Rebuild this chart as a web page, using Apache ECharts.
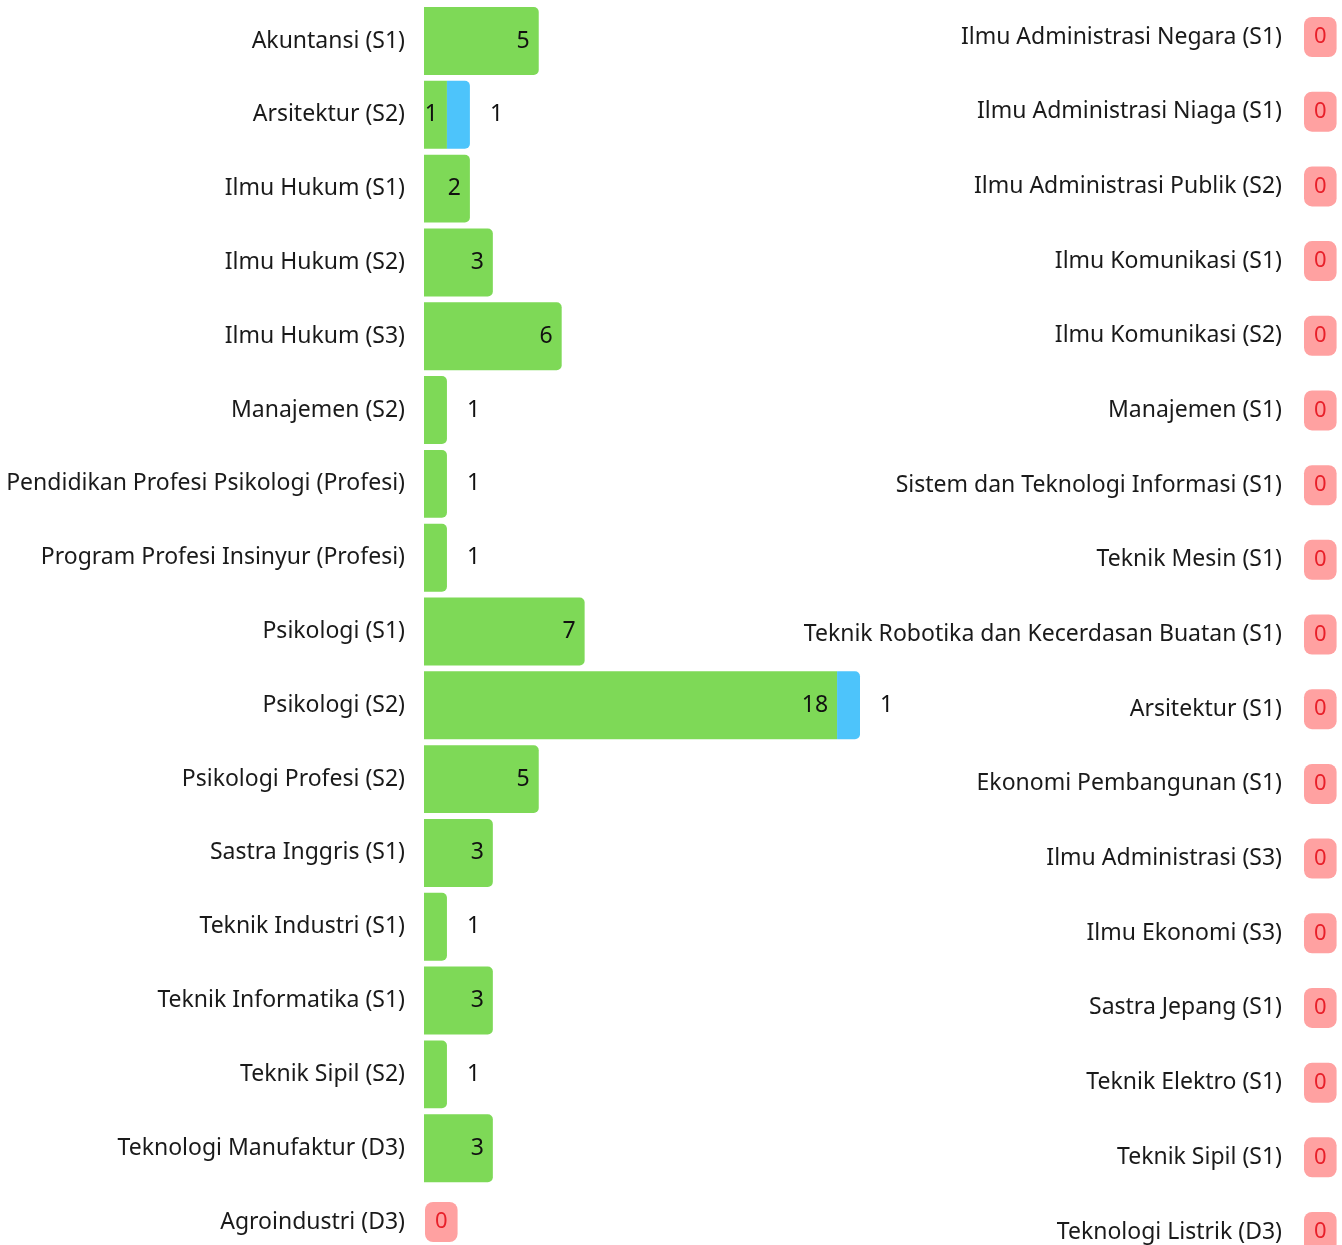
<!DOCTYPE html>
<html>
<head>
<meta charset="utf-8">
<script src="https://cdn.jsdelivr.net/npm/echarts@6/dist/echarts.min.js"></script>
<style>
  html, body { margin: 0; padding: 0; background: #fff; }
  #chart { width: 1342px; height: 1245px; }
</style>
</head>
<body>
<div id="chart"></div>
<script>
// program studi dengan data
const leftCats = [
  'Akuntansi (S1)', 'Arsitektur (S2)', 'Ilmu Hukum (S1)', 'Ilmu Hukum (S2)', 'Ilmu Hukum (S3)',
  'Manajemen (S2)', 'Pendidikan Profesi Psikologi (Profesi)', 'Program Profesi Insinyur (Profesi)',
  'Psikologi (S1)', 'Psikologi (S2)', 'Psikologi Profesi (S2)', 'Sastra Inggris (S1)',
  'Teknik Industri (S1)', 'Teknik Informatika (S1)', 'Teknik Sipil (S2)', 'Teknologi Manufaktur (D3)',
  'Agroindustri (D3)'
];
const greenVals = [5, 1, 2, 3, 6, 1, 1, 1, 7, 18, 5, 3, 1, 3, 1, 3, 0];
const blueVals  = [0, 1, 0, 0, 0, 0, 0, 0, 0, 1, 0, 0, 0, 0, 0, 0, 0];

// program studi tanpa data
const rightCats = [
  'Ilmu Administrasi Negara (S1)', 'Ilmu Administrasi Niaga (S1)', 'Ilmu Administrasi Publik (S2)',
  'Ilmu Komunikasi (S1)', 'Ilmu Komunikasi (S2)', 'Manajemen (S1)', 'Sistem dan Teknologi Informasi (S1)',
  'Teknik Mesin (S1)', 'Teknik Robotika dan Kecerdasan Buatan (S1)', 'Arsitektur (S1)',
  'Ekonomi Pembangunan (S1)', 'Ilmu Administrasi (S3)', 'Ilmu Ekonomi (S3)', 'Sastra Jepang (S1)',
  'Teknik Elektro (S1)', 'Teknik Sipil (S1)', 'Teknologi Listrik (D3)'
];
const rightVals = rightCats.map(() => 0);

const FONT = 'Noto Sans';
const FS = 23;
const badge = {
  show: true, position: 'right', distance: 1, formatter: '0',
  fontFamily: FONT, fontSize: 22, color: '#e8202a',
  backgroundColor: '#ffa1a1', borderRadius: 8, padding: [9, 10, 9, 10]
};

const chart = echarts.init(document.getElementById('chart'));

chart.setOption({
  animation: false,
  grid: [
    // kategori di tepi grid (boundaryGap false) supaya jarak baris pas
    { left: 424, top: 41, width: 436, height: 1181, containLabel: false },
    { left: 1303, top: 37, width: 30, height: 1195, containLabel: false }
  ],
  xAxis: [
    { gridIndex: 0, type: 'value', min: 0, max: 19, show: false },
    { gridIndex: 1, type: 'value', min: 0, max: 1, show: false }
  ],
  yAxis: [
    {
      gridIndex: 0, type: 'category', data: leftCats, inverse: true, boundaryGap: false,
      axisLine: { show: false }, axisTick: { show: false }, splitLine: { show: false },
      axisLabel: { margin: 19, fontFamily: FONT, fontSize: FS, color: '#1a1a1a' }
    },
    {
      gridIndex: 1, type: 'category', data: rightCats, inverse: true, boundaryGap: false,
      axisLine: { show: false }, axisTick: { show: false }, splitLine: { show: false },
      axisLabel: { margin: 21, fontFamily: FONT, fontSize: FS, color: '#1a1a1a' }
    }
  ],
  series: [
    {
      name: 'green', type: 'bar', stack: 'a', xAxisIndex: 0, yAxisIndex: 0,
      barCategoryGap: '8%', clip: false,
      itemStyle: { color: '#7ed957' },
      data: greenVals.map((v, i) => {
        const item = { value: v };
        if (v === 0) {
          item.label = badge;
        } else if (v === 1 && blueVals[i] === 0) {
          item.label = { show: true, position: 'right', distance: 20 };
        }
        if (blueVals[i] === 0) item.itemStyle = { borderRadius: [0, 5, 5, 0] };
        return item;
      }),
      label: {
        show: true, position: 'insideRight', distance: 9,
        fontFamily: FONT, fontSize: FS, color: '#111'
      }
    },
    {
      name: 'blue', type: 'bar', stack: 'a', xAxisIndex: 0, yAxisIndex: 0,
      barCategoryGap: '8%', clip: false,
      itemStyle: { color: '#4dc4fb', borderRadius: [0, 5, 5, 0] },
      data: blueVals.map(v => v === 0 ? { value: '-' } : v),
      label: {
        show: true, position: 'right', distance: 20,
        fontFamily: FONT, fontSize: FS, color: '#111'
      }
    },
    {
      name: 'kosong', type: 'bar', xAxisIndex: 1, yAxisIndex: 1, clip: false,
      data: rightVals,
      itemStyle: { color: 'transparent' },
      label: badge
    }
  ]
});
</script>
</body>
</html>
